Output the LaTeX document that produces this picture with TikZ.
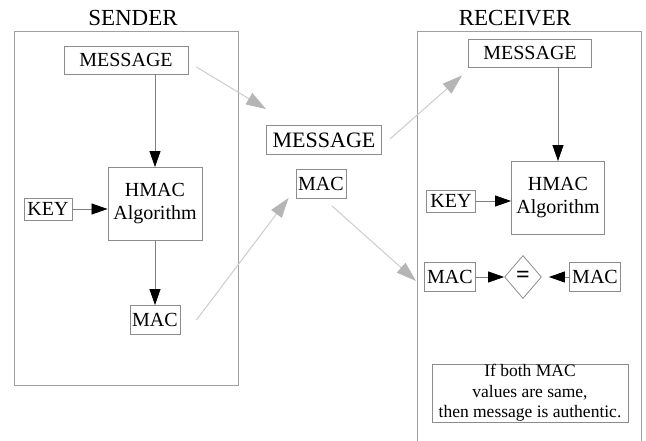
\documentclass[tikz,border=0pt]{standalone}
\usepackage{fontspec}
\setmainfont{Liberation Serif}
\usetikzlibrary{arrows.meta,shapes.geometric,calc}
\definecolor{boxgray}{HTML}{8C8C8C}
\definecolor{framegray}{HTML}{A0A0A0}
\definecolor{lightline}{HTML}{CCCCCC}
\definecolor{lighttip}{HTML}{B5B5B5}
\tikzset{
  box/.style={draw=boxgray, line width=0.9pt, inner sep=0pt, align=center,
    font=\fontsize{20}{23}\selectfont},
  title/.style={inner sep=0pt, font=\fontsize{23}{26}\selectfont},
  frame/.style={draw=framegray, line width=1pt},
  arr/.style={draw=gray, line width=0.8pt, -{Triangle[length=16pt,width=11pt,color=black,fill=black]}},
  garr/.style={draw=lightline, line width=1pt, -{Triangle[length=20pt,width=13pt,color=lighttip,fill=lighttip]}},
  cmp/.style={draw=boxgray, line width=0.8pt, diamond, inner sep=0pt, minimum width=37pt, minimum height=43pt, font=\fontsize{24}{26}\selectfont\bfseries},
}
\begin{document}
\begin{tikzpicture}[x=1pt,y=-1pt]
\useasboundingbox (0,0) rectangle (646,441);
% sender
\node[title] (sendt) at (133,18) {SENDER};
\draw[frame] (14,32) rectangle (238,385);
\node[box, minimum width=124pt, minimum height=28pt] (smsg) at (126,60) {MESSAGE};
\node[box, minimum width=94pt, minimum height=73pt] (shmac) at (155,204) {HMAC\\Algorithm};
\node[box, minimum width=48pt, minimum height=22pt] (skey) at (48,209) {KEY};
\node[box, minimum width=50pt, minimum height=29pt] (smac) at (155,320) {MAC};
\draw[arr] (smsg.south -| shmac.north) -- (shmac.north);
\draw[arr] (skey.east) -- (skey.east -| shmac.west);
\draw[arr] (shmac.south -| smac.north) -- (smac.north);
% middle
\node[box, minimum width=115pt, minimum height=29pt, font=\fontsize{22}{25}\selectfont] (mmsg) at (324,140) {MESSAGE};
\node[box, minimum width=50pt, minimum height=29pt] (mmac) at (321,184) {MAC};
% receiver
\node[title] (recvt) at (515,18) {RECEIVER};
\draw[frame] (417,441) -- (417,32) -- (641,32) -- (641,441);
\node[box, minimum width=123pt, minimum height=28pt] (rmsg) at (530,53) {MESSAGE};
\node[box, minimum width=93pt, minimum height=73pt] (rhmac) at (558,198) {HMAC\\Algorithm};
\node[box, minimum width=49pt, minimum height=22pt] (rkey) at (451,201) {KEY};
\node[box, minimum width=51pt, minimum height=29pt] (rmac) at (450,277) {MAC};
\node[cmp] (eq) at (523,277) {=};
\node[box, minimum width=51pt, minimum height=29pt] (rmac2) at (595,277) {MAC};
\node[box, minimum width=196pt, minimum height=58pt, font=\fontsize{17.5}{20.5}\selectfont] (note) at (530,393) {If both MAC\\ values are same,\\then message is authentic.};
\draw[arr] (rmsg.south -| rhmac.north) -- (rhmac.north);
\draw[arr] (rkey.east) -- (rkey.east -| rhmac.west);
\draw[arr] (rmac.east) -- (eq.west);
\draw[arr, shorten >=7pt] (rmac2.west) -- (eq.east);
% grey connectors
\coordinate (g1s) at ($(smsg.east)+(8,7)$);
\coordinate (g1e) at ($(mmsg.north west)+(0,-16)$);
\coordinate (g2s) at ($(smac.east)+(16,0)$);
\coordinate (g2e) at ($(mmac.south west)+(-7,-1)$);
\coordinate (g3s) at ($(mmsg.east)+(8,-1)$);
\coordinate (g3e) at ($(rmsg.south west)+(-6,8)$);
\coordinate (g4s) at ($(mmac.south)+(11,7)$);
\coordinate (g4e) at ($(rmac.west)+(-8,4)$);
\draw[garr] (g1s) -- (g1e);
\draw[garr] (g2s) -- (g2e);
\draw[garr] (g3s) -- (g3e);
\draw[garr] (g4s) -- (g4e);
\end{tikzpicture}
\end{document}
